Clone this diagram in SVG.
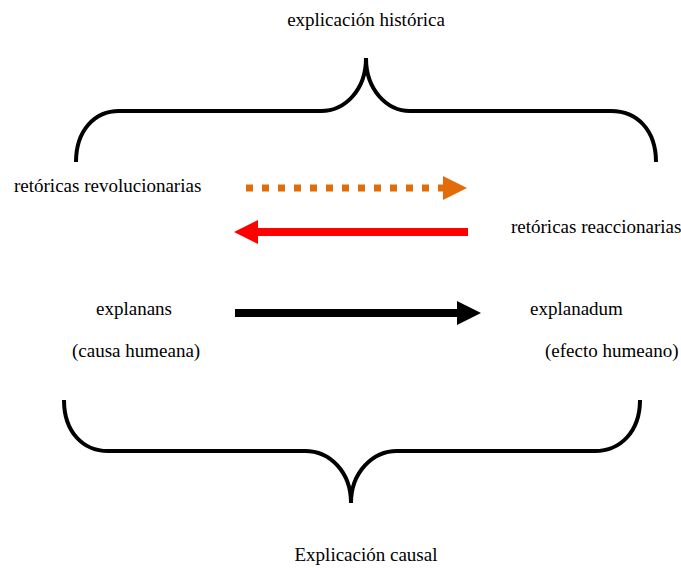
<svg xmlns="http://www.w3.org/2000/svg" width="681" height="568" viewBox="0 0 681 568">
<style>
.brace{fill:none;stroke:#000;stroke-width:4;stroke-linecap:butt}
</style>
<rect width="681" height="568" fill="#fff"/>
<g id="top-brace"><path class="brace" d="M76,162 C76,130 95,111 119,111 L321,111 C345,111 366,90 366,58 C366,90 387,111 410,111 L611,111 C637,111 656,130 656,162"/></g>
<g id="bottom-brace"><path class="brace" d="M64,400 C64,432 83,451 108,451 L305,451 C330,451 351,472 351,503 C351,472 373,451 397,451 L595,451 C620,451 640,432 640,400"/></g>
<g font-family="Liberation Serif, serif" font-size="19" fill="#000">
<g id="t-historica"><text x="366" y="26" text-anchor="middle">explicación histórica</text></g>
<g id="t-revol"><text x="14" y="192">retóricas revolucionarias</text></g>
<g id="t-reacc"><text x="511" y="233">retóricas reaccionarias</text></g>
<g id="t-explanans"><text x="96" y="315">explanans</text><text x="72" y="357">(causa humeana)</text></g>
<g id="t-explanadum"><text x="530" y="315">explanadum</text><text x="545" y="357">(efecto humeano)</text></g>
<g id="t-causal"><text x="366" y="561" text-anchor="middle">Explicación causal</text></g>
</g>
<g id="connectors">
<line x1="246" y1="188" x2="443" y2="188" stroke="#E36C0A" stroke-width="7" stroke-dasharray="7 9"/>
<path d="M443,176 L467,188 L443,200 Z" fill="#E36C0A"/>
<line x1="468" y1="232" x2="256" y2="232" stroke="#FF0000" stroke-width="8"/>
<path d="M258,220 L234,232 L258,244 Z" fill="#FF0000"/>
<line x1="235" y1="313" x2="459" y2="313" stroke="#000" stroke-width="8"/>
<path d="M457,301 L481,313 L457,325 Z" fill="#000"/>
</g>
</svg>
